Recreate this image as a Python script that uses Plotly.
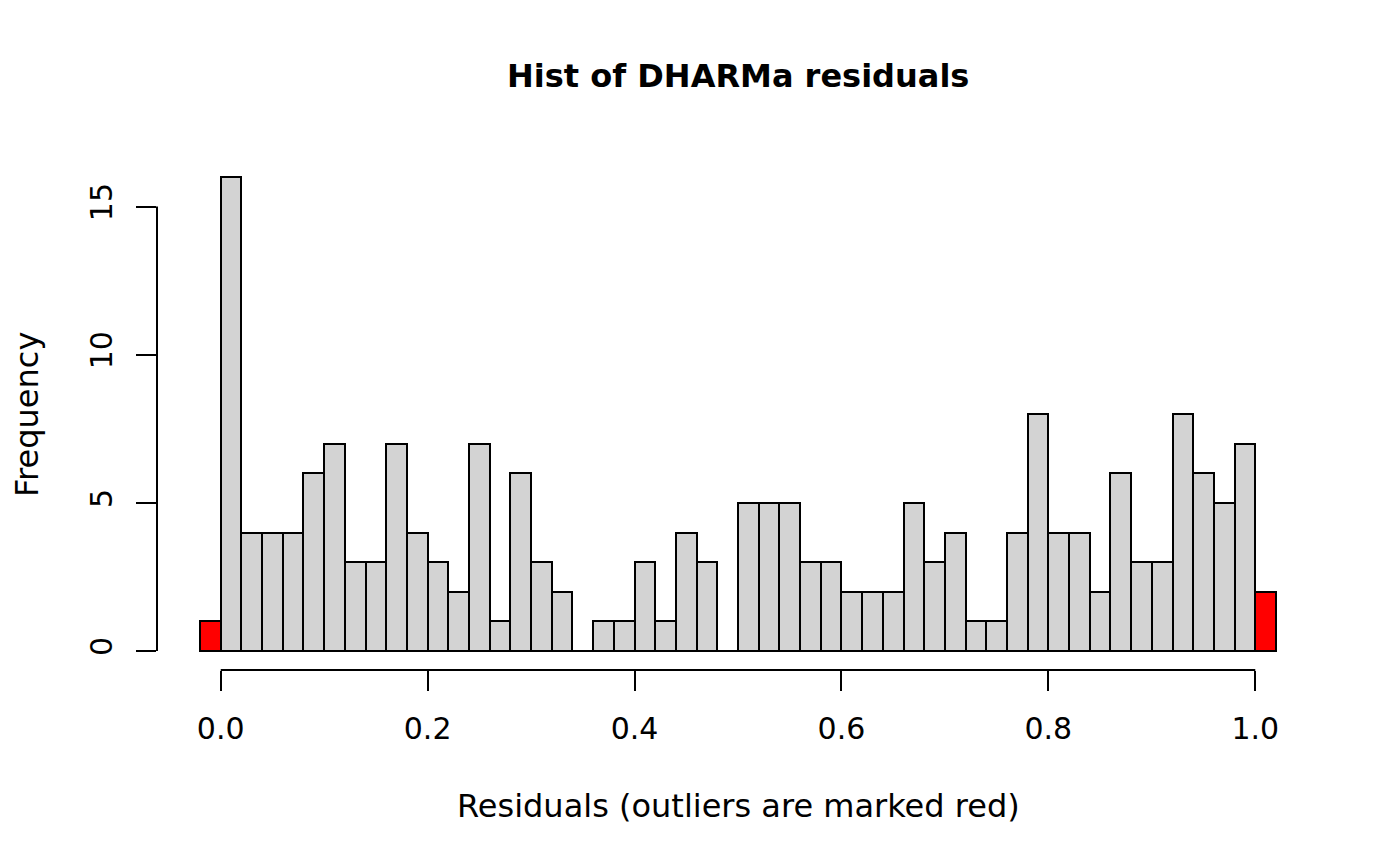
import plotly.graph_objects as go

# Histogram data (DHARMa residuals), bins of width 0.02 starting at -0.02
bin_start = -0.02
bin_width = 0.02
counts = [1, 16, 4, 4, 4, 6, 7, 3, 3, 7, 4, 3, 2, 7, 1, 6, 3, 2, 0, 1, 1, 3, 1, 4, 3, 0,
          5, 5, 5, 3, 3, 2, 2, 2, 5, 3, 4, 1, 1, 4, 8, 4, 4, 2, 6, 3, 3, 8, 6, 5, 7, 2]
x_tickvals = [0.0, 0.2, 0.4, 0.6, 0.8, 1.0]
x_ticktext = ["0.0", "0.2", "0.4", "0.6", "0.8", "1.0"]
y_tickvals = [0, 5, 10, 15]
y_ticktext = ["0", "5", "10", "15"]

lefts = [bin_start + i * bin_width for i in range(len(counts))]
centers = [l + bin_width / 2 for l in lefts]
colors = ["#FF0000" if (l < -1e-9 or l > 1 - 1e-9) else "#D3D3D3" for l in lefts]

fig = go.Figure()
fig.add_trace(go.Bar(
    x=centers, y=counts, width=[bin_width] * len(counts),
    marker=dict(color=colors, line=dict(color="black", width=2)),
    showlegend=False, hoverinfo="x+y",
))

FONT = "DejaVu Sans"
fig.update_layout(
    width=1400, height=866,
    margin=dict(l=157, r=81, t=158, b=196),
    plot_bgcolor="white", paper_bgcolor="white",
    font=dict(family=FONT, size=30, color="black"),
    bargap=0,
    xaxis=dict(
        range=[-0.0616, 1.0616], showgrid=False, zeroline=False, showline=False,
        tickmode="array", tickvals=x_tickvals, ticktext=x_ticktext,
        ticks="outside", ticklen=20, tickwidth=2, tickcolor="black",
        tickfont=dict(family=FONT, size=30), ticklabelstandoff=12,
    ),
    yaxis=dict(
        range=[-0.64, 16.64], showgrid=False, zeroline=False, showline=False,
        tickmode="array", tickvals=y_tickvals, ticktext=y_ticktext,
        ticks="outside", ticklen=20, tickwidth=2, tickcolor="black",
        tickfont=dict(family=FONT, size=30), tickangle=-90, ticklabelstandoff=12,
    ),
    shapes=[
        # x axis line (first to last tick)
        dict(type="line", xref="x", yref="paper", x0=x_tickvals[0], x1=x_tickvals[-1],
             y0=0, y1=0, line=dict(color="black", width=2)),
        # y axis line (first to last tick)
        dict(type="line", xref="paper", yref="y", x0=0, x1=0,
             y0=y_tickvals[0], y1=y_tickvals[-1], line=dict(color="black", width=2)),
        # histogram baseline (outline of empty bins)
        dict(type="line", xref="x", yref="y", x0=lefts[0], x1=lefts[-1] + bin_width,
             y0=0, y1=0, line=dict(color="black", width=2), layer="above"),
    ],
    annotations=[
        dict(text="<b>Hist of DHARMa residuals</b>", xref="paper", yref="paper",
             x=0.5, y=1.16, xanchor="center", yanchor="middle", showarrow=False,
             font=dict(family=FONT, size=32, color="black")),
        dict(text="Residuals (outliers are marked red)", xref="paper", yref="paper",
             x=0.5, y=-0.2656, xanchor="center", yanchor="middle", showarrow=False,
             font=dict(family=FONT, size=32, color="black")),
        dict(text="Frequency", xref="paper", yref="paper", textangle=-90,
             x=-0.1119, y=0.5, xanchor="center", yanchor="middle", showarrow=False,
             font=dict(family=FONT, size=32, color="black")),
    ],
)

fig.write_html("out.html", config={"displayModeBar": False},
               post_script="document.body.style.margin='0';")
